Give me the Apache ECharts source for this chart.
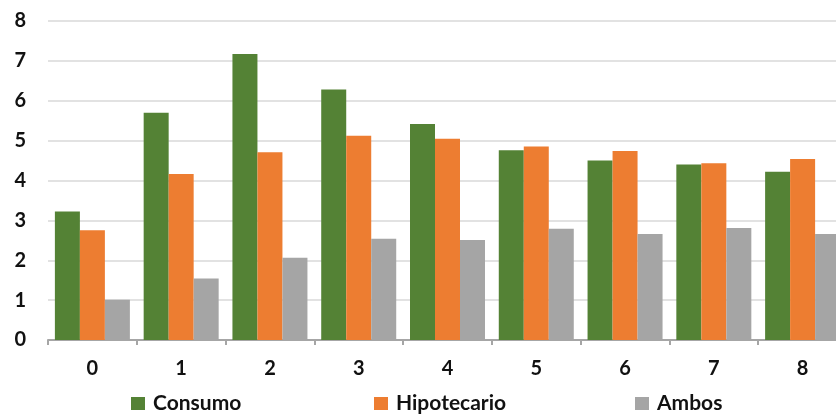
<!DOCTYPE html>
<html>
<head>
<meta charset="utf-8">
<script src="https://cdn.jsdelivr.net/npm/echarts@6/dist/echarts.min.js"></script>
<style>
  html, body { margin: 0; padding: 0; background: #fff; }
  #chart { width: 836px; height: 418px; }
</style>
</head>
<body>
<div id="chart"></div>
<script>
// Categories on the horizontal axis
const categories = ['0', '1', '2', '3', '4', '5', '6', '7', '8'];

// Series values
const consumo     = [3.22, 5.70, 7.17, 6.28, 5.42, 4.76, 4.50, 4.40, 4.22];
const hipotecario = [2.75, 4.16, 4.71, 5.12, 5.05, 4.85, 4.74, 4.43, 4.54];
const ambos       = [1.01, 1.54, 2.06, 2.54, 2.51, 2.79, 2.66, 2.81, 2.66];

const seriesNames = ['Consumo', 'Hipotecario', 'Ambos'];
const colors = ['#548235', '#ED7D31', '#A5A5A5'];

const FONT = 'Lato, "Open Sans", "DejaVu Sans", sans-serif';

const chart = echarts.init(document.getElementById('chart'), null, { renderer: 'canvas' });

function legendAt(name, left) {
  return {
    data: [name],
    left: left,
    top: 393,
    itemWidth: 14,
    itemHeight: 13,
    itemGap: 0,
    icon: 'rect',
    padding: 0,
    textStyle: { fontFamily: FONT, fontWeight: 'bold', fontSize: 21, color: '#111', padding: [0, 0, 0, 3] },
    selectedMode: false
  };
}

chart.setOption({
  animation: false,
  color: colors,
  legend: [
    legendAt(seriesNames[0], 131),
    legendAt(seriesNames[1], 374),
    legendAt(seriesNames[2], 635)
  ],
  // the plot runs slightly past the right edge of the canvas
  grid: { left: 48, top: 21, right: -11, bottom: 78, outerBoundsMode: 'none', containLabel: false },
  xAxis: {
    type: 'category',
    data: categories,
    axisLine: { show: true, lineStyle: { color: '#a6a6a6', width: 2 } },
    axisTick: { show: true, length: 5, lineStyle: { color: '#a6a6a6', width: 2 } },
    axisLabel: { fontFamily: FONT, fontWeight: 'bold', fontSize: 20, color: '#111', margin: 19 }
  },
  yAxis: {
    type: 'value',
    min: 0,
    max: 8,
    interval: 1,
    axisLine: { show: false },
    axisTick: { show: false },
    splitLine: { lineStyle: { color: '#d9d9d9', width: 1.5 } },
    axisLabel: { fontFamily: FONT, fontWeight: 'bold', fontSize: 20, color: '#111', margin: 22 }
  },
  series: [
    { name: seriesNames[0], type: 'bar', data: consumo, barWidth: 25, barGap: '0%' },
    { name: seriesNames[1], type: 'bar', data: hipotecario, barWidth: 25, barGap: '0%' },
    { name: seriesNames[2], type: 'bar', data: ambos, barWidth: 25, barGap: '0%' }
  ]
});
</script>
</body>
</html>
